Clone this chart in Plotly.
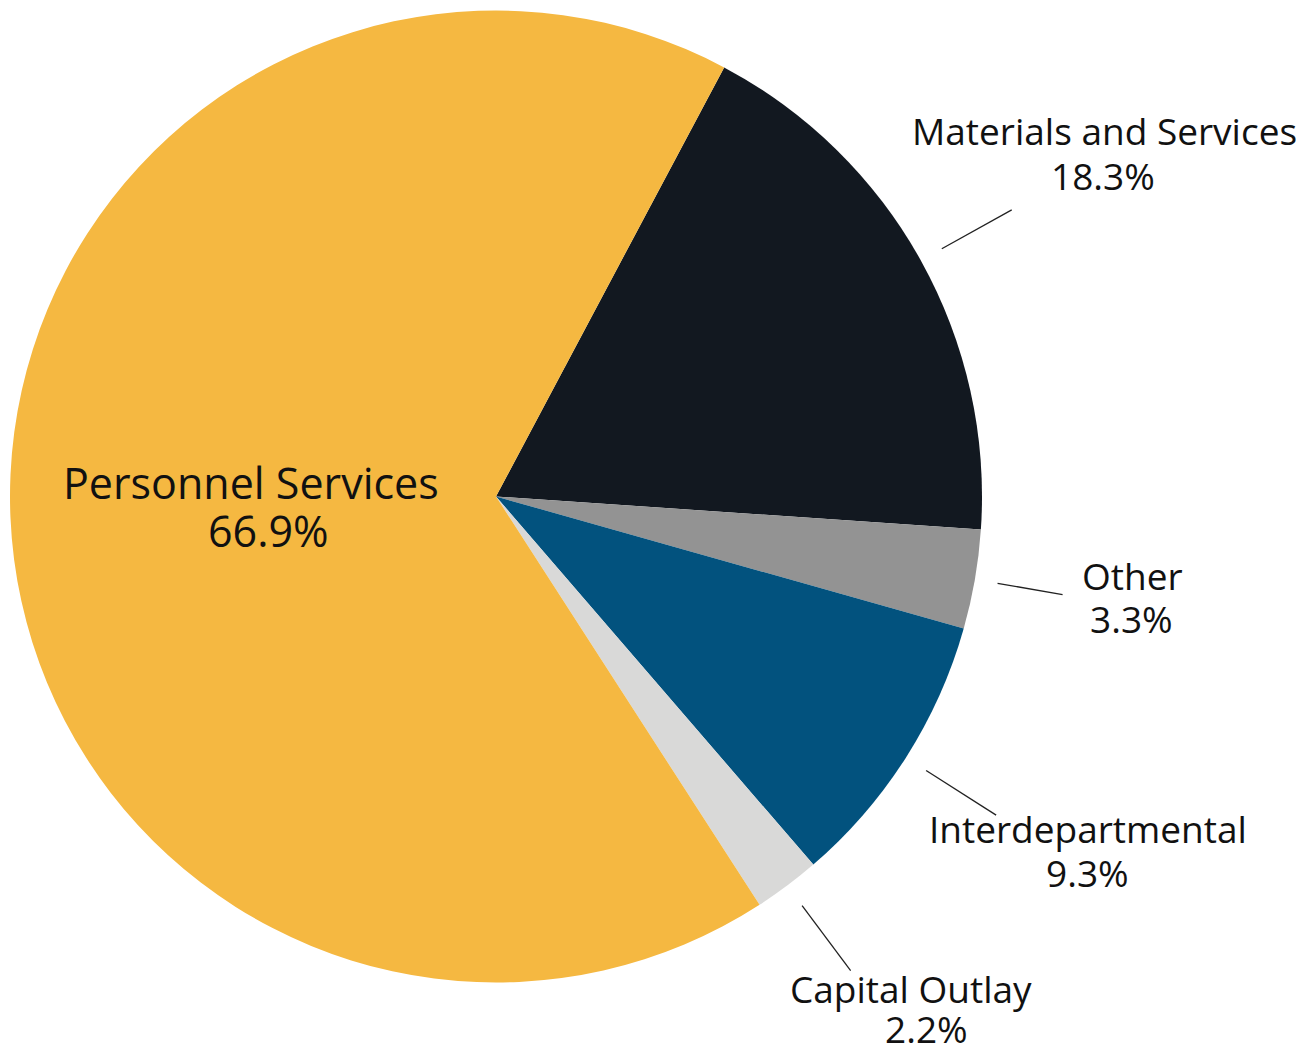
import math
import plotly.graph_objects as go

# ---- data ----
categories = ["Materials and Services", "Other", "Interdepartmental", "Capital Outlay", "Personnel Services"]
shares = [18.3, 3.3, 9.3, 2.2, 66.9]
colors = ["#121820", "#939393", "#02527E", "#D9D9D8", "#F5B841"]
pct_labels = ["18.3%", "3.3%", "9.3%", "2.2%", "66.9%"]

W, H = 1304, 1048
OFF = 8  # page body margin offset
CX, CY, R = 496 - OFF, 496.5 - OFF, 486
ROTATION = 28

fig = go.Figure(go.Pie(
    labels=categories,
    values=shares,
    sort=False,
    direction="clockwise",
    rotation=ROTATION,
    marker=dict(colors=colors, line=dict(width=0)),
    textinfo="none",
    hoverinfo="label+percent",
    showlegend=False,
    domain=dict(x=[(CX - R) / W, (CX + R) / W], y=[(H - CY - R) / H, (H - CY + R) / H]),
))

def to_paper(px, py):
    return (px - OFF) / W, 1 - (py - OFF) / H

# mid angle of each slice (degrees clockwise from 12 o'clock)
total = sum(shares)
mids = []
acc = ROTATION
for v in shares:
    span = v / total * 360
    mids.append(acc + span / 2)
    acc += span

FONT = "Open Sans"
shapes, annotations = [], []
# leader lines (radial, along each small slice's mid angle)
line_r = [(510, 590), (509, 575), (510, 593), (511, 592)]
for i in range(4):
    a = math.radians(mids[i])
    dx, dy = math.sin(a), -math.cos(a)
    r0, r1 = line_r[i]
    x0, y0 = to_paper(CX + OFF + r0 * dx, CY + OFF + r0 * dy)
    x1, y1 = to_paper(CX + OFF + r1 * dx, CY + OFF + r1 * dy)
    shapes.append(dict(type="line", xref="paper", yref="paper", x0=x0, y0=y0, x1=x1, y1=y1,
                       line=dict(color="#222222", width=1.3)))

# label placement (page pixels): (name line, percent line)
label_pos = [
    ((1104, 131), (1103, 175)),
    ((1132, 575), (1131, 618)),
    ((1088, 828), (1087, 872)),
    ((911, 988), (926, 1028)),
    ((251, 482), (268, 530)),
]
for i in range(5):
    size = 43 if i == 4 else 37
    (ax, ay), (bx, by) = label_pos[i]
    for (tx, ty), txt in (((ax, ay), categories[i]), ((bx, by), pct_labels[i])):
        x, y = to_paper(tx, ty)
        annotations.append(dict(xref="paper", yref="paper", x=x, y=y, xanchor="center", yanchor="middle",
                                text=txt, showarrow=False,
                                font=dict(family=FONT, size=size, color="#111111")))

fig.update_layout(
    width=W, height=H,
    margin=dict(l=0, r=0, t=0, b=0),
    paper_bgcolor="white",
    plot_bgcolor="white",
    shapes=shapes,
    annotations=annotations,
)

fig.write_html("out.html")
